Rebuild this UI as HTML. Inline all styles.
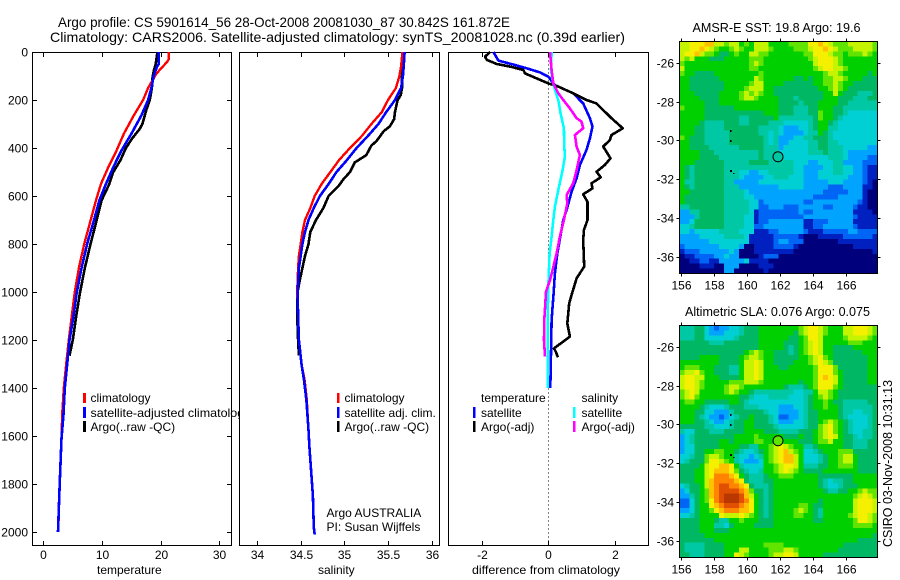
<!DOCTYPE html>
<html>
<head>
<meta charset="utf-8">
<title>Argo profile</title>
<style>
html,body{margin:0;padding:0;background:#fff;width:900px;height:580px;overflow:hidden}
svg{display:block}
text{font-family:"Liberation Sans",Arial,sans-serif;font-size:12px;fill:#000}
.title{font-size:14px}
.ml{font-size:12.5px}
</style>
</head>
<body>
<svg id="fig" xmlns="http://www.w3.org/2000/svg" width="900" height="580" viewBox="0 0 900 580">
<defs>
<clipPath id="clip1"><rect x="32" y="52" width="208" height="493"/></clipPath>
</defs>
<text class="title" x="58" y="27" textLength="452" lengthAdjust="spacingAndGlyphs">Argo profile: CS 5901614_56 28-Oct-2008 20081030_87 30.842S 161.872E</text>
<text class="title" x="50" y="42" textLength="575" lengthAdjust="spacingAndGlyphs">Climatology: CARS2006. Satellite-adjusted climatology: synTS_20081028.nc (0.39d earlier)</text>

<g id="p1"></g>
<g id="p2"></g>
<g id="p3"></g>

<text x="97" y="574">temperature</text>
<text x="318" y="574">salinity</text>
<text x="472" y="574" textLength="148" lengthAdjust="spacingAndGlyphs">difference from climatology</text>

<g>
<rect x="83" y="393" width="3" height="10" fill="#f00"/>
<text x="90.5" y="402">climatology</text>
<rect x="83" y="407" width="3" height="11" fill="#00f"/>
<text x="90.5" y="417" clip-path="url(#clip1)" textLength="160" lengthAdjust="spacingAndGlyphs">satellite-adjusted climatology</text>
<rect x="83" y="421" width="3" height="11" fill="#000"/>
<text x="90.5" y="431">Argo(..raw -QC)</text>
</g>
<g>
<rect x="337" y="393" width="2.5" height="10" fill="#f00"/>
<text x="344.5" y="402">climatology</text>
<rect x="337" y="407" width="2.5" height="11" fill="#00f"/>
<text x="344.5" y="417">satellite adj. clim.</text>
<rect x="337" y="421" width="2.5" height="11" fill="#000"/>
<text x="344.5" y="431">Argo(..raw -QC)</text>
<text x="326.5" y="517">Argo AUSTRALIA</text>
<text x="326.5" y="531">PI: Susan Wijffels</text>
</g>
<g>
<text x="481" y="402">temperature</text>
<text x="581.5" y="402">salinity</text>
<rect x="473" y="407" width="2.5" height="11" fill="#00f"/>
<text x="481" y="417">satellite</text>
<rect x="473" y="421" width="2.5" height="11" fill="#000"/>
<text x="481" y="431">Argo(-adj)</text>
<rect x="573" y="407" width="2.5" height="11" fill="#0ff"/>
<text x="581.5" y="417">satellite</text>
<rect x="573" y="421" width="2.5" height="11" fill="#f0f"/>
<text x="581.5" y="431">Argo(-adj)</text>
</g>

<g id="m1"></g>
<g id="m2"></g>

<text class="ml" x="692.5" y="32" textLength="168" lengthAdjust="spacingAndGlyphs">AMSR-E SST: 19.8 Argo: 19.6</text>
<text class="ml" x="685" y="316" textLength="185" lengthAdjust="spacingAndGlyphs">Altimetric SLA: 0.076 Argo: 0.075</text>
<text transform="translate(892,547) rotate(-90)" textLength="167" lengthAdjust="spacingAndGlyphs" style="font-size:13px">CSIRO 03-Nov-2008 10:31:13</text>
</svg>

<script>
// ---- profile data ----
const depthTicks = [0,200,400,600,800,1000,1200,1400,1600,1800,2000];
const tempTicks = [0,10,20,30];
const salTicks = [34,34.5,35,35.5,36];
const salTickLabels = ['34','34.5','35','35.5','36'];
const diffTicks = [-2,0,2];

const tempClimDepth = [0,30,40,60,90,150,200,264,340,410,480,549,618,700,797,895,1000,1100,1200,1300,1400,1510,1610,1800,2000];
const tempClim = [21.36,21.36,21.13,20.4,19.27,17.85,17.0,15.42,13.73,12.49,11.07,9.83,8.98,8.08,7.0,6.1,5.37,4.86,4.35,3.9,3.5,3.22,3.1,2.8,2.54];
const tempSatDepth = [0,50,60,100,150,200,264,340,410,480,549,618,700,797,895,1000,1100,1200,1300,1400,1510,1610,1800,2000];
const tempSat = [19.7,19.7,19.38,18.8,18.42,17.85,16.72,15.03,13.33,11.92,10.68,9.55,8.64,7.5,6.56,5.7,5.14,4.46,4.07,3.67,3.44,3.1,2.8,2.5];
const tempArgoDepth = [0,50,80,110,150,200,240,300,320,360,400,450,500,550,618,700,797,895,1000,1100,1200,1265];
const tempArgo = [19.43,19.15,18.8,18.59,18.5,18.14,17.57,16.89,16.44,15.14,14.07,13.16,11.92,11.24,9.94,9.1,8.08,7.12,6.27,5.6,5.03,4.46];

const salClimDepth = [0,60,100,150,200,250,300,350,400,450,500,550,600,650,700,750,800,850,900,1000,1100,1200,1300,1367,1450,1575,1645,1750,1850,1980,2010];
const salClim = [35.664,35.65,35.63,35.59,35.5,35.43,35.31,35.2,35.065,34.94,34.84,34.74,34.66,34.61,34.55,34.52,34.5,34.48,34.47,34.46,34.47,34.48,34.51,34.545,34.57,34.59,34.6,34.62,34.64,34.65,34.66];
const salSatDepth = [0,60,100,150,200,250,300,350,400,450,500,550,600,650,700,750,800,850,900,1000,1100,1200,1300,1367,1450,1575,1645,1750,1850,1980,2010];
const salSat = [35.69,35.68,35.67,35.65,35.58,35.48,35.39,35.27,35.14,35.03,34.91,34.82,34.72,34.65,34.59,34.55,34.52,34.5,34.48,34.465,34.47,34.48,34.51,34.538,34.565,34.59,34.6,34.62,34.64,34.65,34.66];
const salArgoDepth = [0,60,100,150,180,200,250,280,310,330,370,390,430,460,500,530,560,600,650,700,750,800,850,900,950,1000,1100,1200,1265];
const salArgo = [35.68,35.67,35.66,35.66,35.645,35.61,35.58,35.57,35.52,35.45,35.37,35.31,35.25,35.12,35.065,34.99,34.93,34.82,34.76,34.675,34.61,34.59,34.55,34.52,34.49,34.465,34.46,34.47,34.48];

const dTempArgoDepth = [0,19,33,50,61,75,89,110,131,144,172,200,214,242,276,318,346,367,394,443,471,499,522,547,568,593,624,700,742,784,894,943,1012,1047,1131,1186,1235,1250,1272];
const dTempArgo = [-1.75,-1.9,-1.85,-1.55,-1.15,-.75,-.7,-.35,0,.3,.75,1.15,1.45,1.65,1.9,2.24,1.9,1.85,1.65,1.87,1.7,1.45,1.58,1.3,1.33,1.05,1.18,1.18,1.07,1.05,1.08,.85,.7,.63,.57,.65,.17,.23,.29];
const dTempSatDepth = [0,36,54,68,85,103,138,172,214,276,311,360,408,471,526,582,658,700,839,922,1006,1117,1256,1400];
const dTempSat = [-1.65,-1.5,-1.0,-.65,-.25,0,.2,.75,1.05,1.25,1.33,1.25,1.15,.95,.85,.7,.55,.45,.27,.2,.16,.1,.08,.06];
const dSalSatDepth = [0,75,117,158,200,256,318,394,436,492,575,644,700,769,839,978,1117,1400];
const dSalSat = [.1,.08,.13,.2,.3,.37,.47,.48,.5,.43,.3,.2,.15,.1,.04,0,-.02,-.02];
const dSalArgoDepth = [0,75,131,172,200,235,276,290,318,346,394,429,492,547,596,631,700,769,839,908,950,999,1117,1200,1269];
const dSalArgo = [.05,.1,.15,.3,.45,.65,.85,1.0,1.05,.8,.85,.95,.85,.75,.55,.57,.47,.35,.25,.13,.05,-.07,-.12,-.13,-.1];

// ---- map data ----
const lonTicks = [156,158,160,162,164,166];
const latTicks = [-26,-28,-30,-32,-34,-36];
const islandLon = [159.0,159.0,159.0,159.2];
const islandLat = [-29.5,-30.05,-31.55,-31.75];
const argoLon = 161.872;
const argoLat = -30.842;
const sstArgoLevel = '5';
const slaArgoLevel = '8';

// colour levels, index = position in levelKeys
const levelKeys = '0123456789abcde';
const levelColors = ['#00007c','#0020c0','#0064f4','#00a4ff','#00d0d4','#00c8a4','#00b864','#00d000','#60e400','#c4f400','#f4f000','#ffc000','#ff8400','#e05000','#b83800'];

const sstRows = [
'99aaa bb998 99787 99977 77888 8aaba 98889 99998',
'99aab a9877 89877 99987 77788 89aab a9888 99998',
'9aab9 88766 78779 98877 77777 88aaa 98878 88987',
'98977 76667 77778 88777 77777 789aa a9877 77777',
'87777 77777 77778 98777 77777 779aa a9877 77777',
'97777 77777 77778 87777 77777 7789a a9987 77777',
'87766 66777 77777 78777 77777 77778 99877 77767',
'77666 66677 77777 98777 77766 76778 89987 77666',
'77666 66667 77778 99777 76666 66778 89877 66666',
'77666 66667 77789 99776 66666 66677 89876 66666',
'77766 66677 77898 98776 66666 66667 79766 65556',
'77776 66677 77899 87777 66656 66667 77666 55566',
'77777 66677 77777 77777 66665 66677 77665 55555',
'87777 66666 67777 77777 66655 56677 76655 55555',
'77777 66666 66666 66777 66655 56687 76654 44444',
'77777 66666 66556 66667 55555 55687 76544 44444',
'77776 55556 66556 66655 54444 45677 65444 44444',
'77766 55556 66666 65555 43334 45677 55444 44444',
'77766 55555 66666 65545 43333 45576 54444 44444',
'87666 55555 66666 66545 33344 55666 54444 44444',
'77666 55555 66666 66545 33444 45566 55444 44444',
'77666 65555 55666 66555 34444 45566 55544 44433',
'77776 66555 55555 56555 44444 45556 55543 33333',
'77776 66655 55555 56555 54444 44444 55543 33322',
'77766 66665 55556 66655 55544 43344 45533 33222',
'76566 66665 55555 55555 55544 33334 45544 33211',
'76566 66665 55443 34455 55544 33344 45544 33211',
'76566 66665 55433 33445 55444 33344 44443 33211',
'75566 66665 53333 34444 44444 33333 44433 33210',
'76566 66665 55333 33333 44444 33333 22233 33110',
'77666 66665 55543 33333 33333 33332 22223 33100',
'76666 66665 55544 33333 33333 33222 22333 33100',
'76666 66665 55554 42333 33333 22333 33333 32100',
'55666 66665 55554 42233 32223 33332 23333 21100',
'33556 66665 55554 12222 22223 22333 33333 11110',
'33356 66665 55544 12222 22222 33333 33333 21111',
'33466 66665 55544 12233 33333 11222 33333 11111',
'44566 66665 55544 22333 33333 11223 33333 21111',
'44344 44455 55444 11122 33333 21112 22223 32222',
'33334 44445 55541 11112 22221 00011 11122 22221',
'33333 34444 44441 11112 33222 00000 00111 11111',
'23333 33344 44300 11112 22210 00000 00000 11111',
'12223 33333 43000 11111 11100 00000 00000 00001',
'01122 22334 33000 01222 00000 00000 00000 00000',
'00112 21133 33341 11100 00000 00000 00000 00000',
'00001 11003 33000 01110 00000 00000 00000 00000',
'00000 00003 30000 00100 00000 00000 00000 00000'
];

const slaRows = [
'55566 43233 44566 67777 77778 9aa98 77799 aaa98',
'55566 43334 44566 67777 77768 9aa98 77799 aaa98',
'55566 44444 45666 67777 77667 8aa97 77789 99987',
'66666 65556 66666 67777 76667 89a97 77778 88777',
'66666 66666 66666 67777 76567 89a97 76666 77777',
'66666 66666 66678 98776 66567 89a97 76666 66777',
'66667 77766 66789 98776 66667 789a8 76666 66677',
'77777 77766 66799 a9776 66677 789a9 86666 66677',
'78887 77666 55799 a9777 66777 778aa a8666 66677',
'899a8 77666 55799 a9777 77777 778aa a8766 66677',
'9aa99 77766 66799 a9777 77777 778ab a9766 66677',
'9aa98 77777 88899 98777 77776 778aa a9766 66677',
'9aa98 77778 99877 77777 76555 678aa a8766 66666',
'89a97 77778 98776 55555 55544 55799 87666 66666',
'89a87 77777 77665 44455 55444 56789 87666 66666',
'78877 66666 77654 44444 44444 56778 76655 55566',
'77776 54445 66655 54444 33344 56778 77655 55556',
'77766 44333 56666 66544 33334 56677 77655 44556',
'77765 43323 45667 66654 22334 56677 77654 44456',
'77766 54334 56677 66654 33344 56678 98765 44456',
'66666 55444 56677 66665 44444 56689 a8765 44456',
'54466 65556 66677 77666 55556 66789 a8765 44556',
'34566 66666 67777 87777 76667 66789 a9766 54556',
'34566 66677 67777 88778 87776 66788 97766 55566',
'34466 66677 77665 57789 a9877 55677 77766 55566',
'34466 77887 76544 56789 ab987 44567 77888 66666',
'44566 89987 75443 45789 abb97 44456 77899 76666',
'45666 8aa98 75433 34789 abb97 44456 77899 76666',
'66667 9aabb a7544 44778 9aa97 55566 77888 76666',
'66677 9abbb a8654 45778 9a987 66667 77777 76666',
'66677 9accc ba765 55677 88877 77766 66666 77777',
'66677 9bccc cba65 55667 77777 77765 45566 77777',
'45667 9bcdd ccba6 55567 77777 77765 44566 67777',
'34667 8bcdd ddcb8 66567 77777 77776 55667 78988',
'33567 8bcde eedb9 76567 77777 77777 77777 89a98',
'22467 8acde eedca 76567 77777 77767 77777 9aaa9',
'22467 7abcd ddcba 76567 77778 87667 77777 9aaa9',
'33467 78abc ccbba 76567 77789 87657 77777 9aaa9',
'44567 777a9 99a98 76567 77788 77657 77778 9aa98',
'66667 77655 77877 76667 77777 77667 77777 8aa98',
'66667 77554 67777 66667 77777 77777 77777 88887',
'66667 77666 77777 77777 77777 77777 77777 77777',
'66666 77777 77777 77777 77777 77777 77777 77776',
'66666 66777 77777 77777 77777 77777 77777 76666',
'65555 66667 77777 77888 87777 77777 77766 66666',
'65555 66667 77997 77788 89987 77777 77666 66666',
'66555 66667 7a987 77789 9aa97 77776 66666 66666'
];

// ---- axis functions ----
const NS = 'http://www.w3.org/2000/svg';
function mk(parent, tag, attrs, txt){
  const el = document.createElementNS(NS, tag);
  for (const k in attrs) el.setAttribute(k, attrs[k]);
  if (txt !== undefined) el.textContent = txt;
  parent.appendChild(el);
  return el;
}
const yDepth = d => 52 + 0.24 * d;
const xTemp = t => 43.3 + 5.87 * t;
const xSal = s => 257 + 87.35 * (s - 34);
const xDiff = v => 548.3 + 33.25 * v;
const xLon = lon => 681.3 + (lon - 156) * 16.47;
const yLat1 = lat => 63 + (-26 - lat) * 19.37;
const yLat2 = lat => 347 + (-26 - lat) * 19.37;

const TOP = 52.5, BOT = 545.5;

function frame(g, x0, x1, y0, y1){
  const r = mk(g, 'rect', {x:x0, y:y0, width:x1-x0, height:y1-y0, fill:'none', stroke:'#000', 'stroke-width':1, 'shape-rendering':'crispEdges'});
  
  
}
function tick(g, x1, y1, x2, y2){
  const l = mk(g, 'line', {x1:x1, y1:y1, x2:x2, y2:y2, stroke:'#000', 'stroke-width':1, 'shape-rendering':'crispEdges'});
  
  
}
function label(g, x, y, s, anchor){
  const t = mk(g, 'text', {x:x, y:y, 'text-anchor':anchor}, s);
  
  
}
function profile(g, xs, ds, xf, color, w, name){
  const pts = xs.map((v, i) => xf(v).toFixed(1) + ',' + yDepth(ds[i]).toFixed(1)).join(' ');
  const p = mk(g, 'polyline', {points:pts, fill:'none', stroke:color, 'stroke-width':w, 'shape-rendering':'crispEdges', 'stroke-linejoin':'round'});
  
  
}

// temperature panel
const p1 = document.getElementById('p1');
frame(p1, 32.5, 231.5, TOP, BOT);
depthTicks.forEach(d => {
  const y = Math.round(yDepth(d)) + 0.5;
  if (d > 0) { tick(p1, 32.5, y, 37, y); tick(p1, 227, y, 231.5, y); }
  label(p1, 28, y + 4, String(d), 'end');
});
tempTicks.forEach(t => {
  const x = Math.round(xTemp(t)) + 0.5;
  tick(p1, x, TOP, x, 57); tick(p1, x, 541, x, BOT);
  label(p1, x, 559, String(t), 'middle');
});
profile(p1, tempArgo, tempArgoDepth, xTemp, '#000', 2.6, 'temperature-argo-line');
profile(p1, tempClim, tempClimDepth, xTemp, '#f00', 2.4, 'temperature-climatology-line');
profile(p1, tempSat, tempSatDepth, xTemp, '#00f', 2.6, 'temperature-satellite-line');

// salinity panel
const p2 = document.getElementById('p2');
frame(p2, 239.5, 439.5, TOP, BOT);
salTicks.forEach((s, i) => {
  const x = Math.round(xSal(s)) + 0.5;
  tick(p2, x, TOP, x, 57); tick(p2, x, 541, x, BOT);
  label(p2, x, 559, salTickLabels[i], 'middle');
});
profile(p2, salArgo, salArgoDepth, xSal, '#000', 2.6, 'salinity-argo-line');
profile(p2, salClim, salClimDepth, xSal, '#f00', 2.4, 'salinity-climatology-line');
profile(p2, salSat, salSatDepth, xSal, '#00f', 2.6, 'salinity-satellite-line');

// difference panel
const p3 = document.getElementById('p3');
frame(p3, 448.5, 648.5, TOP, BOT);
diffTicks.forEach(v => {
  const x = Math.round(xDiff(v)) + 0.5;
  tick(p3, x, TOP, x, 57); tick(p3, x, 541, x, BOT);
  label(p3, x, 559, String(v), 'middle');
});
const zero = mk(p3, 'line', {x1:xDiff(0), y1:TOP, x2:xDiff(0), y2:BOT, stroke:'#000', 'stroke-width':1, 'stroke-dasharray':'1 3', 'shape-rendering':'crispEdges'});


profile(p3, dTempSat, dTempSatDepth, xDiff, '#00f', 2.6, 'temperature-satellite-diff-line');
profile(p3, dTempArgo, dTempArgoDepth, xDiff, '#000', 2.6, 'temperature-argo-diff-line');
profile(p3, dSalSat, dSalSatDepth, xDiff, '#0ff', 2.6, 'salinity-satellite-diff-line');
profile(p3, dSalArgo, dSalArgoDepth, xDiff, '#f0f', 2.6, 'salinity-argo-diff-line');

// maps
function drawMap(g, rows, top, bottom, yLat, argoLevel, prefix){
  const left = 679.5, right = 877.5;
  const cleaned = rows.map(r => r.replace(/ /g, ''));
  const nr = cleaned.length;
  cleaned.forEach((row, r) => {
    const nc = row.length;
    for (let c = 0; c < nc; c++) {
      const x0 = left + (right - left) * c / nc;
      const x1 = left + (right - left) * (c + 1) / nc;
      const y0 = top + (bottom - top) * r / nr;
      const y1 = top + (bottom - top) * (r + 1) / nr;
      const cell = mk(g, 'rect', {x:x0.toFixed(2), y:y0.toFixed(2), width:(x1-x0+0.3).toFixed(2), height:(y1-y0+0.3).toFixed(2), fill:levelColors[levelKeys.indexOf(row[c])], 'shape-rendering':'crispEdges'});
      
      
    }
  });
  frame(g, left, right, top, bottom);
  lonTicks.forEach(lon => {
    const x = Math.round(xLon(lon)) + 0.5;
    tick(g, x, top - 3, x, top);
    tick(g, x, bottom, x, bottom + 3);
    label(g, x, bottom + 16, String(lon), 'middle');
  });
  latTicks.forEach(lat => {
    const y = Math.round(yLat(lat)) + 0.5;
    tick(g, left - 3, y, left, y);
    tick(g, right, y, right + 3, y);
    label(g, left - 5.5, y + 4, String(lat), 'end');
  });
  islandLon.forEach((lon, i) => {
    const dot = mk(g, 'rect', {x:Math.round(xLon(lon)) - 1, y:Math.round(yLat(islandLat[i])) - 1, width:i === 2 ? 2 : 1.5, height:i === 3 ? 1 : 2, fill:'#000', 'shape-rendering':'crispEdges'});
    
    
  });
  const circ = mk(g, 'circle', {cx:xLon(argoLon), cy:yLat(argoLat), r:5, fill:levelColors[levelKeys.indexOf(argoLevel)], stroke:'#000', 'stroke-width':1});
  
  
}
drawMap(document.getElementById('m1'), sstRows, 41.5, 273.5, yLat1, sstArgoLevel, 'sst');
drawMap(document.getElementById('m2'), slaRows, 325.5, 557.5, yLat2, slaArgoLevel, 'sla');
</script>
</body>
</html>
